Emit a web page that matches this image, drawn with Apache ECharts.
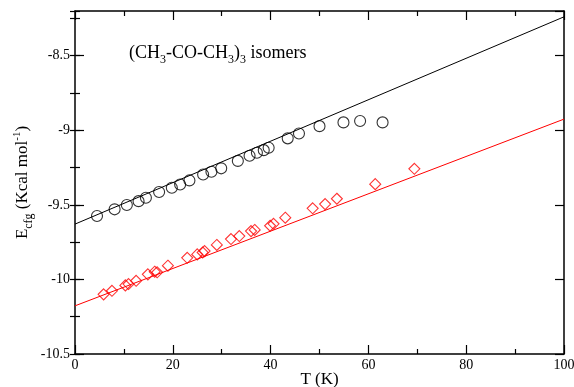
<!DOCTYPE html>
<html>
<head>
<meta charset="utf-8">
<script src="https://cdn.jsdelivr.net/npm/echarts@6/dist/echarts.min.js"></script>
<style>
  html, body { margin: 0; padding: 0; background: #fff; }
  #chart { width: 574px; height: 387px; }
</style>
</head>
<body>
<div id="chart"></div>
<script>
// Circles (black): T (K) and E_cfg
const circleT = [4.5, 8.1, 10.6, 13.0, 14.5, 17.2, 19.8, 21.5, 23.4, 26.2, 27.9, 29.9, 33.3, 35.7, 37.2, 38.6, 39.6, 43.5, 45.8, 50.0, 54.9, 58.3, 62.9];
const circleE = [-9.575, -9.530, -9.501, -9.475, -9.452, -9.414, -9.385, -9.363, -9.336, -9.296, -9.278, -9.255, -9.205, -9.171, -9.151, -9.133, -9.117, -9.054, -9.021, -8.972, -8.947, -8.938, -8.947];

// Diamonds (red)
const diamondT = [5.85, 7.56, 10.3, 10.95, 12.5, 14.9, 16.3, 16.8, 19.0, 22.95, 25.0, 26.1, 26.5, 29.0, 31.9, 33.6, 36.0, 36.75, 39.9, 40.6, 43.0, 48.6, 51.15, 53.55, 61.4, 69.4];
const diamondE = [-10.100, -10.076, -10.040, -10.031, -10.009, -9.966, -9.948, -9.952, -9.908, -9.855, -9.832, -9.819, -9.810, -9.769, -9.729, -9.709, -9.676, -9.668, -9.640, -9.627, -9.586, -9.523, -9.495, -9.459, -9.361, -9.258];

// Fit lines
const fitT = [0, 100];
const fitBlackE = [-9.629, -8.239];
const fitRedE = [-10.177, -8.925];

const font = "Liberation Serif";
const zip = (xs, ys) => xs.map((x, i) => [x, ys[i]]);

const chart = echarts.init(document.getElementById("chart"));

const xBase = {
  type: "value", min: 0, max: 100, interval: 20,
  axisLine: { show: true, onZero: false, lineStyle: { color: "#000", width: 1.5 } },
  axisTick: { show: true, inside: true, length: 9, lineStyle: { color: "#000", width: 1.2 } },
  minorTick: { show: true, splitNumber: 2, length: 5, lineStyle: { color: "#000", width: 1.2 } },
  splitLine: { show: false },
};

const yMajor = {
  type: "value", min: -10.5, max: -8.2, interval: 0.5,
  axisLine: { show: true, onZero: false, lineStyle: { color: "#000", width: 1.5 } },
  axisTick: { show: true, inside: true, length: 9, lineStyle: { color: "#000", width: 1.2 } },
  splitLine: { show: false },
};
const yMinor = {
  type: "value", min: -10.5, max: -8.2, interval: 0.25,
  axisLine: { show: false },
  axisLabel: { show: false },
  axisTick: { show: true, inside: true, length: 5, lineStyle: { color: "#000", width: 1.2 } },
  splitLine: { show: false },
};

chart.setOption({
  animation: false,
  backgroundColor: "#fff",
  grid: { left: 75, right: 10, top: 11, bottom: 33, outerBoundsMode: "none", containLabel: false },
  xAxis: [
    {
      ...xBase, position: "bottom",
      name: "T (K)", nameLocation: "middle", nameGap: 17, nameMoveOverlap: false,
      nameTextStyle: { fontFamily: font, fontSize: 17, color: "#000" },
      axisLabel: { fontFamily: font, fontSize: 14, color: "#000", margin: 4 },
    },
    { ...xBase, position: "top", axisLabel: { show: false } },
  ],
  yAxis: [
    {
      ...yMajor, position: "left",
      name: "E{sub|cfg} (Kcal mol{sup|-1})", nameLocation: "middle", nameGap: 40, nameRotate: 90,
      nameMoveOverlap: false,
      nameTextStyle: {
        fontFamily: font, fontSize: 17, color: "#000",
        rich: {
          sub: { fontFamily: font, fontSize: 12, color: "#000", padding: [12, 0, 0, 0] },
          sup: { fontFamily: font, fontSize: 11, color: "#000", padding: [0, 0, 12, 0] },
        },
      },
      axisLabel: { fontFamily: font, fontSize: 14, color: "#000", margin: 5, showMaxLabel: false },
    },
    { ...yMinor, position: "left" },
    { ...yMajor, position: "right", axisLabel: { show: false } },
    { ...yMinor, position: "right" },
  ],
  graphic: [
    {
      type: "text", left: 129, top: 44,
      style: {
        text: "(CH{s|3}-CO-CH{s|3}){s|3} isomers",
        fontFamily: font, fontSize: 18, fill: "#000",
        rich: { s: { fontFamily: font, fontSize: 12, fill: "#000", padding: [14, 0, 0, 0] } },
      },
    },
  ],
  series: [
    {
      type: "line", data: zip(fitT, fitBlackE), symbol: "none",
      lineStyle: { color: "#000", width: 1 }, z: 1,
    },
    {
      type: "line", data: zip(fitT, fitRedE), symbol: "none",
      lineStyle: { color: "#f00", width: 1 }, z: 1,
    },
    {
      type: "scatter", data: zip(circleT, circleE), symbol: "circle", symbolSize: 11,
      itemStyle: { color: "rgba(0,0,0,0)", borderColor: "#000", borderWidth: 1.1 }, z: 3,
    },
    {
      type: "scatter", data: zip(diamondT, diamondE), symbol: "diamond", symbolSize: 11,
      itemStyle: { color: "rgba(0,0,0,0)", borderColor: "#f00", borderWidth: 1.1 }, z: 3,
    },
  ],
});
</script>
</body>
</html>
